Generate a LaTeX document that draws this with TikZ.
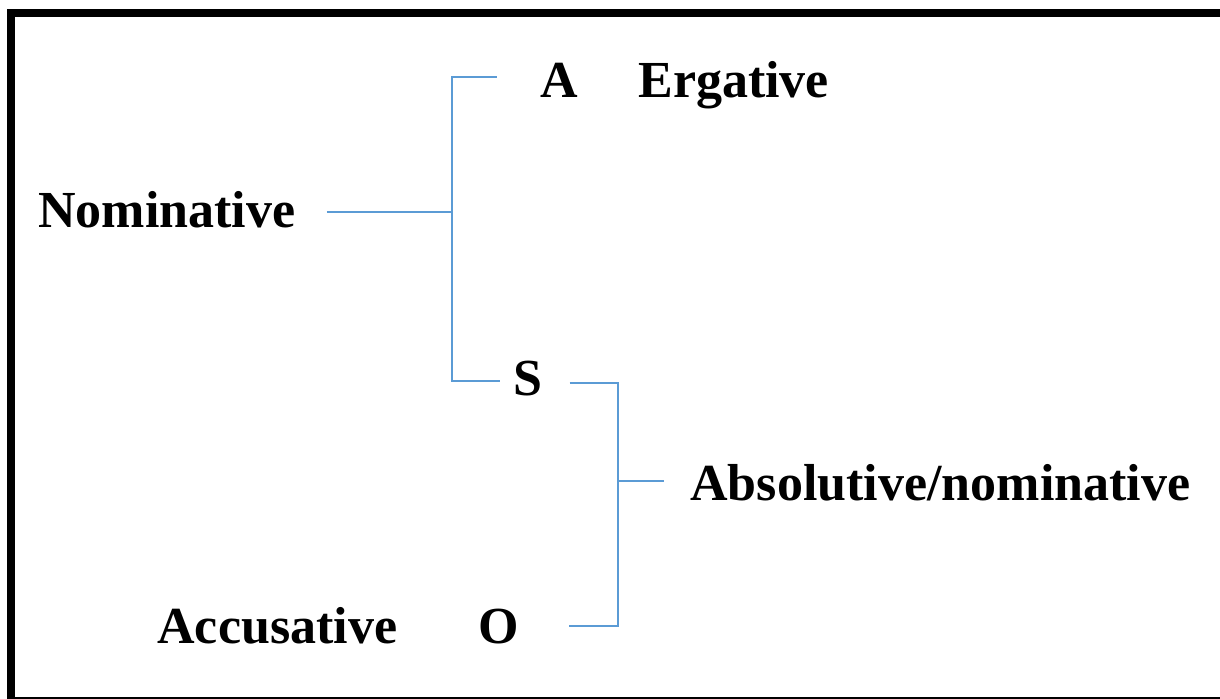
\documentclass[tikz,border=0pt]{standalone}
\usepackage{fontspec}
\setmainfont{Liberation Serif}
\usetikzlibrary{positioning}
\definecolor{caseblue}{RGB}{91,155,213}

\begin{document}
\begin{tikzpicture}[x=0.5pt, y=-0.5pt]
    \useasboundingbox (0,0) rectangle (1220,698);
    \begin{scope}[every node/.style = {font=\fontsize{26}{30}\selectfont\bfseries, inner sep=0pt, anchor=base west},
                  link/.style = {draw=caseblue, line width=1.1pt}]
        \clip (0,0) rectangle (1220,698);
        \draw[line width=4pt] (11,13) rectangle (1232,701);
        \node (nom) at (38,227) {Nominative};
        \node (a) at (540,97) {A};
        \node (erg) at (638,97) {Ergative};
        \node (s) at (513,395) {S};
        \node (abs) at (690,500) {Absolutive/nominative};
        \node (acc) at (157,643) {Accusative};
        \node (o) at (478,643) {O};
        \coordinate (f1) at (452,212);
        \coordinate (f1t) at (452,77);
        \coordinate (f1b) at (452,381);
        \coordinate (f2) at (618,481);
        \coordinate (f2t) at (618,383);
        \coordinate (f2b) at (618,626);
        \draw[link, shorten <=15.5pt] (nom.east |- f1) -- (f1);
        \draw[link, shorten >=21.5pt] (f1) -- (f1t) -- (a.west |- f1t);
        \draw[link, shorten >=6.5pt] (f1) -- (f1b) -- (s.west |- f1b);
        \draw[link, shorten <=13.5pt, shorten >=25pt] (s.east |- f2t) -- (f2t) -- (f2b) -- (o.east |- f2b);
        \draw[link, shorten >=13pt] (f2) -- (abs.west |- f2);
    \end{scope}
\end{tikzpicture}
\end{document}
